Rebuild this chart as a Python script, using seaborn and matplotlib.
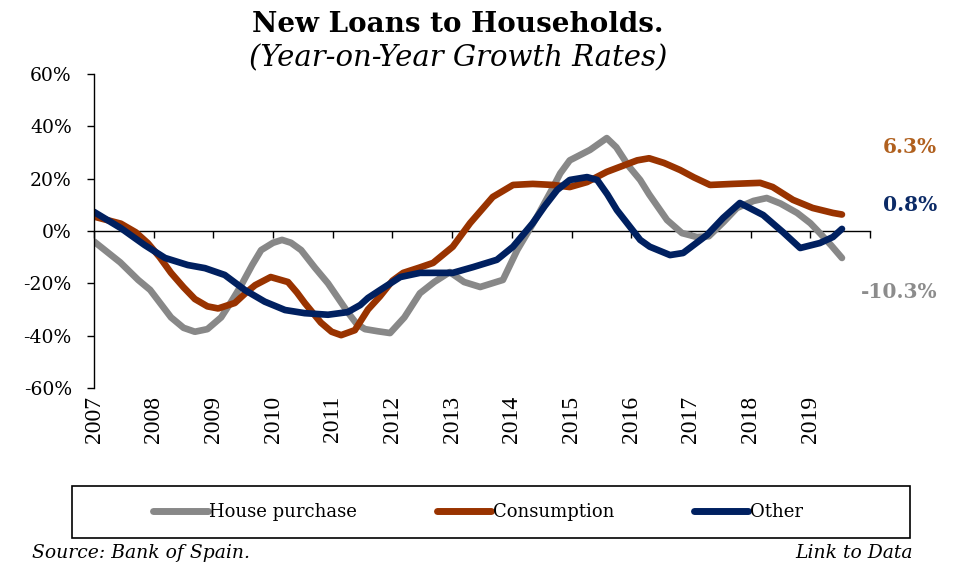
import matplotlib
matplotlib.use("Agg")
import matplotlib.pyplot as plt
import matplotlib.patches as mpatches
import seaborn as sns
import pandas as pd

# ---------------- data ----------------
house_t = [2007.00, 2007.44, 2007.74, 2007.94, 2008.29, 2008.50, 2008.69, 2008.90, 2009.13,
           2009.30, 2009.46, 2009.65, 2009.80, 2010.00, 2010.15, 2010.30, 2010.47, 2010.70,
           2010.92, 2011.10, 2011.25, 2011.40, 2011.54, 2011.75, 2011.96, 2012.20, 2012.46,
           2012.70, 2012.96, 2013.20, 2013.47, 2013.85, 2014.09, 2014.42, 2014.65, 2014.81,
           2014.97, 2015.31, 2015.59, 2015.75, 2015.95, 2016.15, 2016.30, 2016.60, 2016.85,
           2017.10, 2017.30, 2017.55, 2017.77, 2018.05, 2018.27, 2018.50, 2018.78, 2019.00,
           2019.16, 2019.35, 2019.53]
house_v = [-4.0, -12.0, -18.7, -22.5, -33.0, -37.0, -38.5, -37.5, -33.0,
           -27.0, -21.0, -13.0, -7.3, -4.5, -3.4, -4.5, -7.3, -14.0,
           -20.0, -26.0, -31.0, -35.5, -37.5, -38.3, -39.0, -33.0, -23.8,
           -19.5, -15.7, -19.5, -21.4, -18.7, -7.3, 5.4, 15.0, 22.0,
           27.0, 31.0, 35.5, 32.0, 25.0, 19.5, 14.0, 4.2, -0.8,
           -2.3, -2.0, 3.5, 8.8, 11.5, 12.6, 10.5, 6.9, 3.0,
           -0.8, -5.5, -10.3]

cons_t = [2007.00, 2007.45, 2007.70, 2007.90, 2008.10, 2008.29, 2008.50, 2008.69, 2008.90,
          2009.08, 2009.36, 2009.55, 2009.70, 2009.96, 2010.25, 2010.40, 2010.53, 2010.80,
          2010.98, 2011.14, 2011.37, 2011.59, 2011.79, 2012.00, 2012.18, 2012.45, 2012.68,
          2013.01, 2013.30, 2013.68, 2014.02, 2014.35, 2014.69, 2014.97, 2015.26, 2015.59,
          2015.81, 2016.10, 2016.30, 2016.55, 2016.82, 2017.05, 2017.32, 2017.70, 2018.16,
          2018.37, 2018.71, 2019.04, 2019.38, 2019.53]
cons_v = [5.5, 2.8, -0.5, -4.6, -10.0, -16.0, -21.5, -26.0, -28.8,
          -29.6, -27.5, -23.5, -20.7, -17.6, -19.5, -23.5, -27.5, -35.0,
          -38.5, -39.8, -37.9, -30.0, -25.0, -19.0, -16.0, -14.0, -12.2,
          -6.0, 3.0, 13.0, 17.6, 18.0, 17.6, 16.8, 18.7, 22.6,
          24.5, 27.0, 27.8, 26.0, 23.3, 20.5, 17.6, 18.0, 18.4,
          16.8, 11.9, 8.8, 6.9, 6.3]

other_t = [2007.00, 2007.45, 2007.85, 2008.19, 2008.57, 2008.86, 2009.19, 2009.53, 2009.86,
           2010.20, 2010.53, 2010.92, 2011.25, 2011.46, 2011.59, 2011.79, 2012.13, 2012.46,
           2013.01, 2013.35, 2013.75, 2014.02, 2014.35, 2014.55, 2014.76, 2014.97, 2015.26,
           2015.43, 2015.60, 2015.76, 2016.15, 2016.31, 2016.65, 2016.87, 2017.27, 2017.54,
           2017.82, 2018.21, 2018.54, 2018.83, 2019.16, 2019.38, 2019.53]
other_v = [7.3, 1.1, -5.4, -10.3, -13.0, -14.2, -16.8, -22.6, -27.0,
           -30.2, -31.4, -32.0, -31.0, -28.3, -25.6, -22.6, -17.6, -16.0,
           -16.0, -13.8, -11.0, -6.0, 3.0, 9.5, 15.7, 19.5, 20.6,
           19.5, 14.0, 8.0, -3.4, -6.0, -9.2, -8.4, -1.5, 5.0,
           10.7, 6.1, -0.4, -6.5, -4.6, -2.3, 0.8]

series_names = ["House purchase", "Consumption", "Other"]
series_colors = ["#888888", "#993300", "#002060"]
end_labels = ["-10.3%", "6.3%", "0.8%"]
end_label_colors = ["#8C8C8C", "#B0601E", "#0B2A66"]
year_ticks = list(range(2007, 2020))
y_ticks = [-60, -40, -20, 0, 20, 40, 60]

# ---------------- build frame ----------------
frames = []
for name, t, v in zip(series_names, [house_t, cons_t, other_t], [house_v, cons_v, other_v]):
    frames.append(pd.DataFrame({"t": t, "value": v, "series": name}))
df = pd.concat(frames, ignore_index=True)

sns.set_style("white")
plt.rcParams["font.family"] = ["DejaVu Serif"]
plt.rcParams["text.color"] = "black"
plt.rcParams["xtick.color"] = "black"
plt.rcParams["ytick.color"] = "black"
plt.rcParams["axes.labelcolor"] = "black"

fig = plt.figure(figsize=(9.56, 5.67), dpi=100)
ax = fig.add_axes([94 / 956, 1 - 388 / 567, (870 - 94) / 956, (388 - 74) / 567])

sns.lineplot(data=df, x="t", y="value", hue="series", hue_order=series_names,
             palette=dict(zip(series_names, series_colors)), estimator=None, sort=False,
             linewidth=4.8, solid_capstyle="round", solid_joinstyle="round", ax=ax,
             legend=True)

handles, labels = ax.get_legend_handles_labels()
ax.get_legend().remove()

ax.set_xlim(2007, 2020)
ax.set_ylim(-60, 60)
ax.set_xlabel("")
ax.set_ylabel("")

for s in ["top", "right"]:
    ax.spines[s].set_visible(False)
ax.spines["left"].set_color("black")
ax.spines["left"].set_linewidth(1.0)
ax.spines["bottom"].set_position(("data", 0))
ax.spines["bottom"].set_color("black")
ax.spines["bottom"].set_linewidth(1.0)
ax.spines["bottom"].set_zorder(1)

ax.set_yticks(y_ticks)
ax.set_yticklabels([f"{v}%" for v in y_ticks], fontsize=13.5, family="DejaVu Serif")
ax.tick_params(axis="y", left=True, direction="out", length=5, width=1, color="black",
               labelcolor="black", pad=11)
ax.set_xticks(list(range(2007, 2021)))
ax.tick_params(axis="x", bottom=True, direction="out", length=5, width=1, color="black",
               labelbottom=False)

for yr in year_ticks:
    ax.text(yr, -0.025, str(yr), transform=ax.get_xaxis_transform(), rotation=90,
            ha="center", va="top", fontsize=17, family="Liberation Serif", color="black")

# end labels
end_y = [298, 153, 211]
for lab, col, yp in zip(end_labels, end_label_colors, end_y):
    fig.text(937 / 956, 1 - yp / 567, lab, ha="right", va="baseline", fontsize=14.5,
             fontweight="bold", color=col, family="DejaVu Serif")

# titles
fig.text(458 / 956, 1 - 32 / 567, "New Loans to Households.", ha="center", va="baseline",
         fontsize=20, fontweight="bold", family="DejaVu Serif", color="black")
fig.text(458 / 956, 1 - 66 / 567, "(Year-on-Year Growth Rates)", ha="center", va="baseline",
         fontsize=21, style="italic", family="DejaVu Serif", color="black")

# legend box
rect = mpatches.Rectangle((72 / 956, 1 - 538 / 567), (910 - 72) / 956, 52 / 567,
                          transform=fig.transFigure, fill=False, edgecolor="black",
                          linewidth=1.2)
fig.patches.append(rect)
leg = fig.legend(handles, labels, loc="center", bbox_to_anchor=(478 / 956, 1 - 512 / 567),
                 ncol=3, frameon=False, handlelength=3.0, handletextpad=0.1,
                 columnspacing=4.4, prop={"family": "DejaVu Serif", "size": 13})
for line in leg.get_lines():
    line.set_linewidth(5)
    line.set_solid_capstyle("round")
for txt in leg.get_texts():
    txt.set_color("black")

# source / link
fig.text(32 / 956, 1 - 558 / 567, "Source: Bank of Spain.", ha="left", va="baseline",
         fontsize=13.5, style="italic", family="DejaVu Serif", color="black")
fig.text(913 / 956, 1 - 558 / 567, "Link to Data", ha="right", va="baseline",
         fontsize=13.5, style="italic", family="DejaVu Serif", color="black")

fig.savefig("out.png", dpi=100)
